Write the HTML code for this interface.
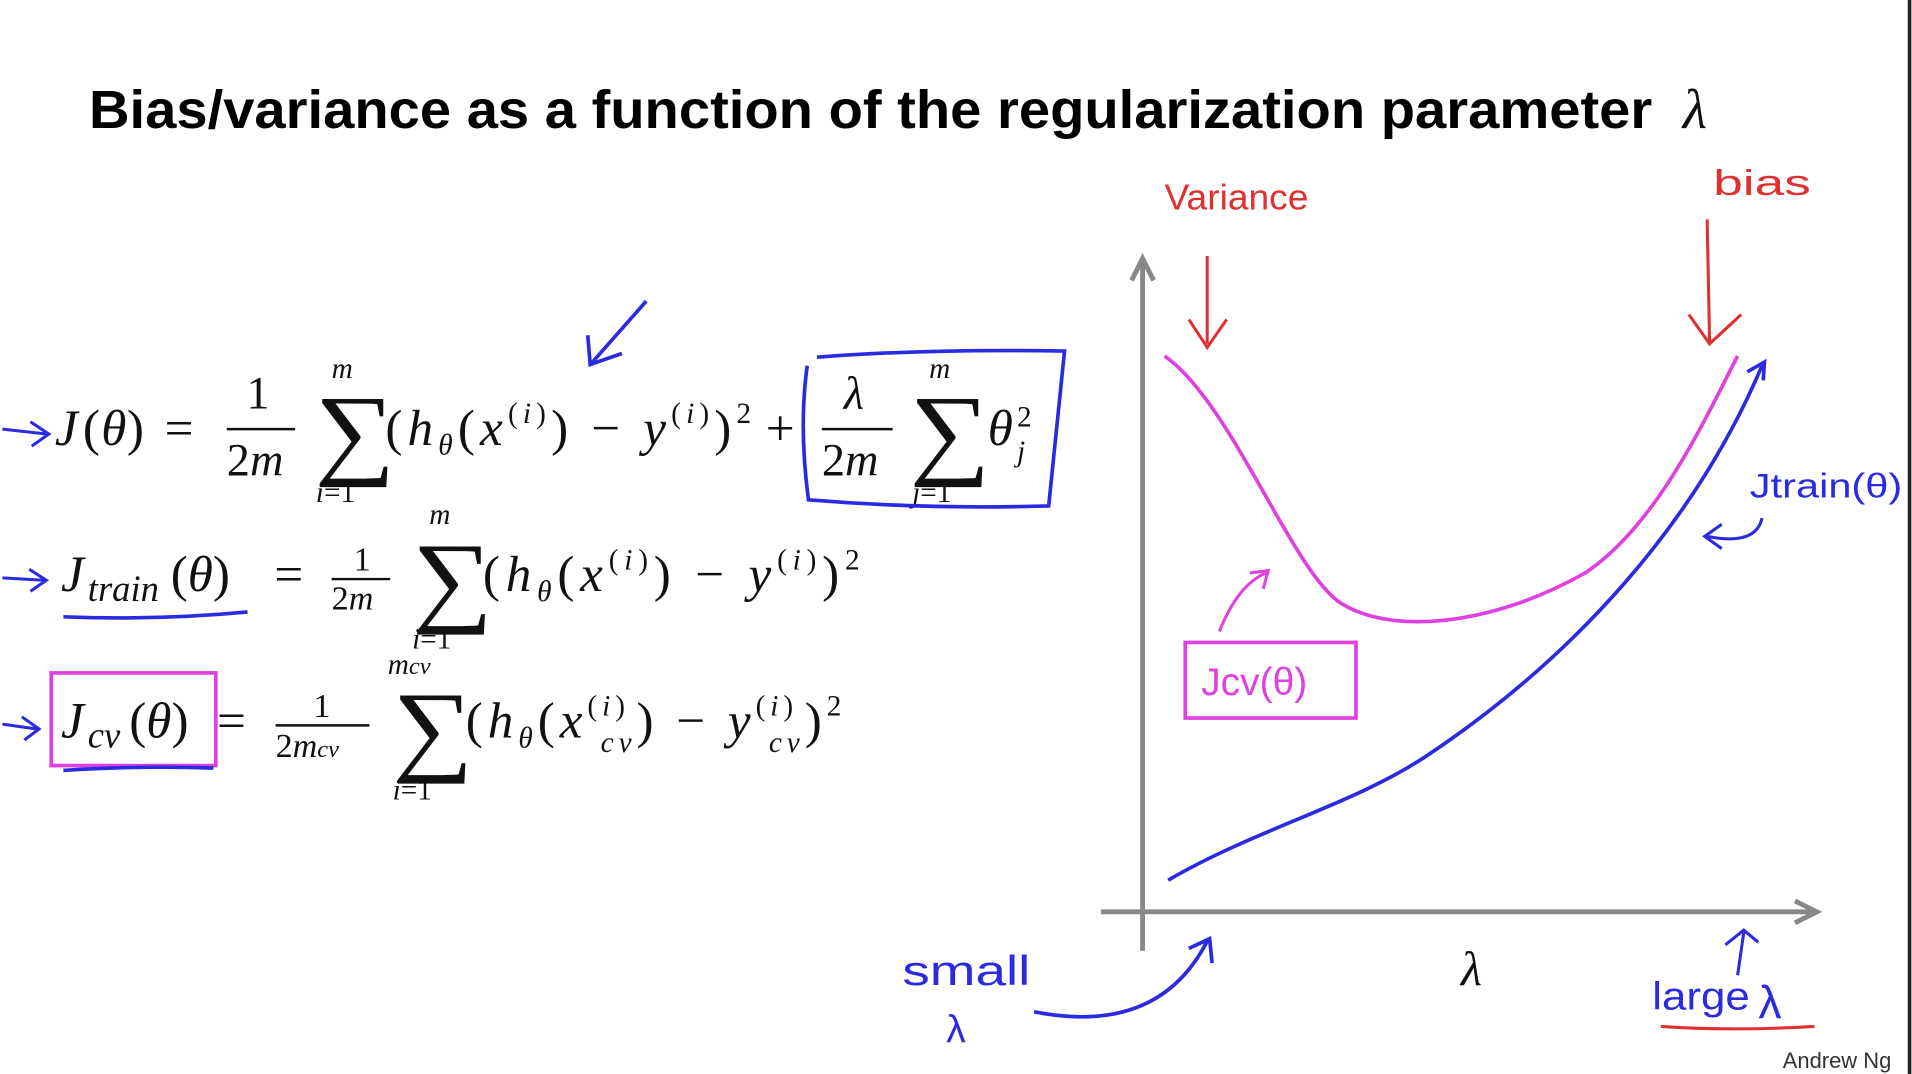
<!DOCTYPE html>
<html><head><meta charset="utf-8"><style>
html,body{margin:0;padding:0;background:#fff;overflow:hidden}
svg{display:block}
.s{font-family:"Liberation Serif","DejaVu Serif",serif;fill:#111}
.i{font-style:italic}
</style></head><body>
<svg width="1912" height="1074" viewBox="0 0 1568 881" preserveAspectRatio="none" xmlns="http://www.w3.org/2000/svg">
<rect width="1568" height="881" fill="#fff"/>
<line x1="1566" y1="0" x2="1566" y2="881" stroke="#222" stroke-width="3"/>
<text x="73" y="105" font-family="Liberation Sans,sans-serif" font-weight="bold" font-size="44" fill="#000" textLength="1282" lengthAdjust="spacingAndGlyphs">Bias/variance as a function of the regularization parameter</text>
<text x="1380" y="105" class="s i" font-size="46">λ</text>

<!-- eq 1 -->
<g class="s">
<text x="45" y="365" font-size="42" class="i">J</text><text x="68" y="365" font-size="42">(</text><text x="83" y="365" font-size="42" class="i">θ</text><text x="104" y="365" font-size="42">)</text>
<text x="135" y="365" font-size="42">=</text>
<text x="202" y="335" font-size="38">1</text><line x1="186" y1="352" x2="242" y2="352" stroke="#111" stroke-width="2"/><text x="186" y="390" font-size="38">2<tspan class="i">m</tspan></text>
<text x="272" y="310" font-size="24" class="i">m</text>
<text x="0" y="0" font-size="64" transform="translate(258 382) scale(1.45 1.3)">∑</text>
<text x="259" y="412" font-size="24"><tspan class="i">i</tspan>=1</text>
<text x="316" y="365" font-size="42" textLength="300" lengthAdjust="spacing">(<tspan class="i">h</tspan><tspan font-size="24" class="i" dy="8">θ</tspan><tspan dy="-8">(</tspan><tspan class="i">x</tspan><tspan font-size="24" dy="-18">(<tspan class="i">i</tspan>)</tspan><tspan dy="18">) − </tspan><tspan class="i">y</tspan><tspan font-size="24" dy="-18">(<tspan class="i">i</tspan>)</tspan><tspan dy="18">)</tspan><tspan font-size="24" dy="-18">2</tspan></text>
<text x="628" y="365" font-size="42">+</text>
<text x="692" y="335" font-size="38" class="i">λ</text><line x1="674" y1="352" x2="732" y2="352" stroke="#111" stroke-width="2"/><text x="674" y="390" font-size="38">2<tspan class="i">m</tspan></text>
<text x="762" y="310" font-size="24" class="i">m</text>
<text x="0" y="0" font-size="64" transform="translate(746 382) scale(1.45 1.3)">∑</text>
<text x="748" y="412" font-size="24"><tspan class="i">j</tspan>=1</text>
<text x="810" y="365" font-size="42" class="i">θ</text><text x="834" y="350" font-size="24">2</text><text x="834" y="378" font-size="24" class="i">j</text>
</g>
<path d="M670 293 Q760 286 873 288 L860 415 Q760 418 663 410 Q655 350 662 300" fill="none" stroke="#2a2ae0" stroke-width="3"/>
<path d="M530 247 L485 298 M482 275 L484 299 L510 290" fill="none" stroke="#2a2ae0" stroke-width="3"/>

<!-- eq 2 -->
<g class="s">
<text x="50" y="485" font-size="42" class="i">J</text><text x="72" y="493" font-size="30" class="i">train</text><text x="140" y="485" font-size="42">(<tspan class="i">θ</tspan>)</text>
<text x="225" y="485" font-size="42">=</text>
<text x="290" y="468" font-size="28">1</text><line x1="272" y1="475" x2="320" y2="475" stroke="#111" stroke-width="2"/><text x="272" y="500" font-size="28">2<tspan class="i">m</tspan></text>
<text x="352" y="430" font-size="24" class="i">m</text>
<text x="0" y="0" font-size="64" transform="translate(338 503) scale(1.45 1.3)">∑</text>
<text x="338" y="532" font-size="24"><tspan class="i">i</tspan>=1</text>
<text x="396" y="485" font-size="42" textLength="309" lengthAdjust="spacing">(<tspan class="i">h</tspan><tspan font-size="24" class="i" dy="8">θ</tspan><tspan dy="-8">(</tspan><tspan class="i">x</tspan><tspan font-size="24" dy="-18">(<tspan class="i">i</tspan>)</tspan><tspan dy="18">) − </tspan><tspan class="i">y</tspan><tspan font-size="24" dy="-18">(<tspan class="i">i</tspan>)</tspan><tspan dy="18">)</tspan><tspan font-size="24" dy="-18">2</tspan></text>
</g>
<path d="M52 506 Q130 509 203 502" fill="none" stroke="#2a2ae0" stroke-width="3"/>

<!-- eq 3 -->
<g class="s">
<text x="50" y="605" font-size="42" class="i">J</text><text x="72" y="613" font-size="30" class="i">cv</text><text x="106" y="605" font-size="42">(<tspan class="i">θ</tspan>)</text>
<text x="178" y="605" font-size="42">=</text>
<text x="257" y="588" font-size="28">1</text><line x1="226" y1="595" x2="303" y2="595" stroke="#111" stroke-width="2"/><text x="226" y="621" font-size="28">2<tspan class="i">m</tspan><tspan font-size="20" class="i">cv</tspan></text>
<text x="318" y="553" font-size="24" class="i">m<tspan font-size="20">cv</tspan></text>
<text x="0" y="0" font-size="64" transform="translate(322 625) scale(1.45 1.3)">∑</text>
<text x="322" y="656" font-size="24"><tspan class="i">i</tspan>=1</text>
<text x="382" y="605" font-size="42" textLength="308" lengthAdjust="spacing">(<tspan class="i">h</tspan><tspan font-size="24" class="i" dy="8">θ</tspan><tspan dy="-8">(</tspan><tspan class="i">x</tspan><tspan font-size="24" dy="-18">(<tspan class="i">i</tspan>)</tspan><tspan font-size="24" class="i" dx="-24" dy="30">cv</tspan><tspan dy="-12">) − </tspan><tspan class="i">y</tspan><tspan font-size="24" dy="-18">(<tspan class="i">i</tspan>)</tspan><tspan font-size="24" class="i" dx="-24" dy="30">cv</tspan><tspan dy="-12">)</tspan><tspan font-size="24" dy="-18">2</tspan></text>
</g>
<rect x="42" y="552" width="135" height="76" fill="none" stroke="#e040e0" stroke-width="3"/>
<path d="M52 632 Q110 628 175 630" fill="none" stroke="#2a2ae0" stroke-width="3"/>

<!-- left arrows -->
<g fill="none" stroke="#2a2ae0" stroke-width="2.5">
<path d="M2 352 L38 356 M25 346 L40 356 L26 366"/>
<path d="M2 474 L36 476 M24 467 L38 476 L25 485"/>
<path d="M2 594 L30 598 M18 588 L32 598 L20 607"/>
</g>

<!-- axes -->
<g stroke="#888" stroke-width="4" fill="none">
<line x1="937" y1="215" x2="937" y2="780"/>
<path d="M928 230 L937 212 L946 230"/>
<line x1="903" y1="748" x2="1488" y2="748"/>
<path d="M1472 739 L1490 748 L1472 757"/>
</g>
<text x="1198" y="808" class="s i" font-size="40">λ</text>

<!-- curves -->
<path d="M955 292 C1010 330 1060 470 1100 495 C1140 520 1220 515 1300 470 C1360 430 1400 340 1425 292" fill="none" stroke="#e040e0" stroke-width="3"/>
<path d="M958 722 C1030 680 1110 660 1170 620 C1290 540 1390 430 1445 300 M1433 305 L1447 297 L1446 312" fill="none" stroke="#2a2ae0" stroke-width="3"/>

<!-- annotations -->
<g fill="none" stroke="#e03030" stroke-width="2.5">
<path d="M990 210 L990 282 M975 262 L990 285 L1006 262"/>
<path d="M1400 180 L1402 280 M1385 258 L1402 282 L1428 258"/>
<path d="M1362 842 Q1420 846 1488 842"/>
</g>
<text x="955" y="172" font-family="Liberation Sans,sans-serif" font-size="30" fill="#e03030" textLength="118" lengthAdjust="spacingAndGlyphs">Variance</text>
<text x="1405" y="160" font-family="Liberation Sans,sans-serif" font-size="30" fill="#e03030" textLength="80" lengthAdjust="spacingAndGlyphs">bias</text>

<rect x="972" y="527" width="140" height="62" fill="none" stroke="#e040e0" stroke-width="3"/>
<text x="985" y="570" font-family="Liberation Sans,sans-serif" font-size="32" fill="#e040e0">Jcv(θ)</text>
<path d="M1000 518 Q1015 480 1038 470 M1025 470 L1040 468 L1036 483" fill="none" stroke="#e040e0" stroke-width="2.5"/>

<text x="1435" y="408" font-family="Liberation Sans,sans-serif" font-size="28" fill="#2a2ae0" textLength="125" lengthAdjust="spacingAndGlyphs">Jtrain(θ)</text>
<path d="M1445 425 Q1440 448 1400 440 M1412 430 L1398 440 L1412 450" fill="none" stroke="#2a2ae0" stroke-width="2.5"/>

<text x="740" y="808" font-family="Liberation Sans,sans-serif" font-size="34" fill="#2a2ae0" textLength="105" lengthAdjust="spacingAndGlyphs">small</text>
<text x="776" y="855" font-family="Liberation Sans,sans-serif" font-size="32" fill="#2a2ae0">λ</text>
<path d="M848 830 Q950 850 990 772 M975 778 L992 770 L994 790" fill="none" stroke="#2a2ae0" stroke-width="3"/>
<text x="1355" y="828" font-family="Liberation Sans,sans-serif" font-size="32" fill="#2a2ae0" textLength="80" lengthAdjust="spacingAndGlyphs">large</text>
<text x="1442" y="835" font-family="Liberation Sans,sans-serif" font-size="38" fill="#2a2ae0">λ</text>
<path d="M1425 800 L1430 765 M1415 775 L1430 763 L1442 773" fill="none" stroke="#2a2ae0" stroke-width="2.5"/>

<text x="1462" y="876" font-family="Liberation Sans,sans-serif" font-size="18" fill="#333">Andrew Ng</text>
</svg>
</body></html>
